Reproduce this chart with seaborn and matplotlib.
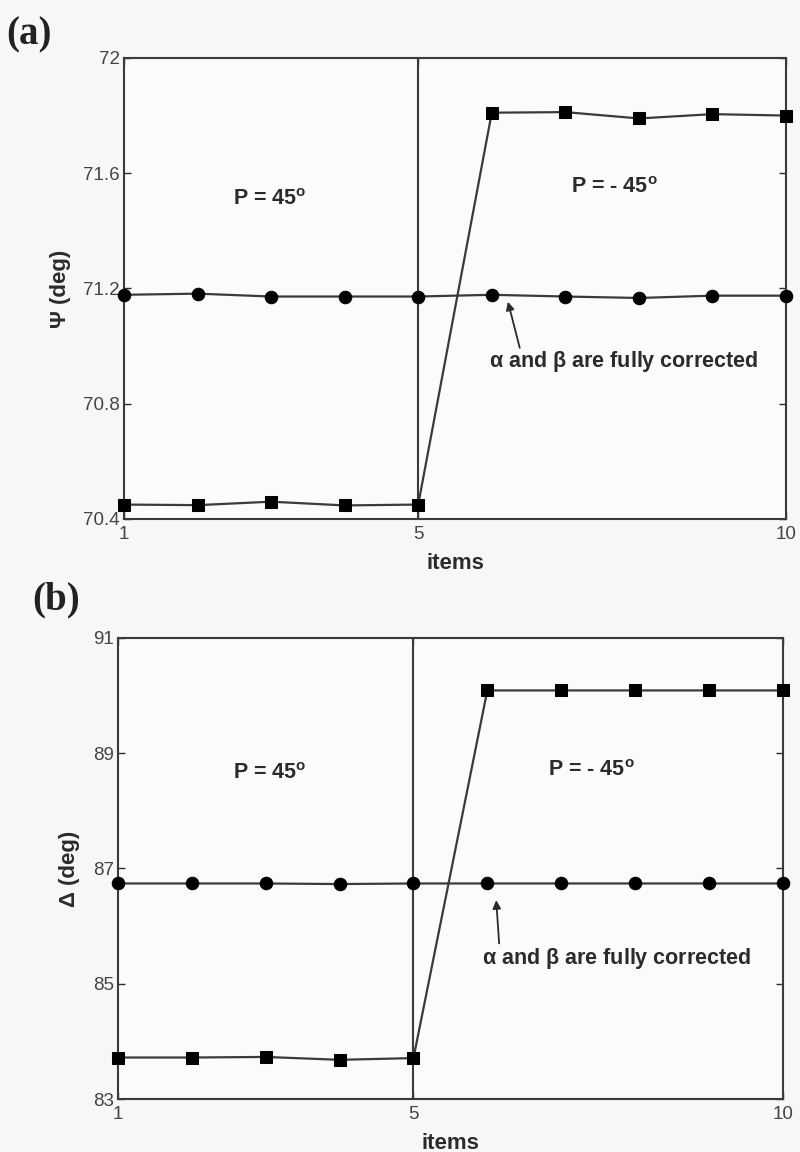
import numpy as np
import pandas as pd
import matplotlib
matplotlib.use("Agg")
import matplotlib.pyplot as plt
import seaborn as sns

# ---- data -----------------------------------------------------------------
items = [1, 2, 3, 4, 5, 6, 7, 8, 9, 10]

psi_uncorrected = [70.45, 70.448, 70.46, 70.447, 70.45, 71.81, 71.812, 71.79, 71.805, 71.80]
psi_corrected = [71.178, 71.182, 71.172, 71.172, 71.172, 71.178, 71.172, 71.167, 71.175, 71.175]

delta_uncorrected = [83.72, 83.72, 83.73, 83.68, 83.71, 90.09, 90.09, 90.09, 90.09, 90.09]
delta_corrected = [86.74, 86.74, 86.74, 86.73, 86.74, 86.74, 86.74, 86.74, 86.74, 86.74]

psi_ticks = [70.4, 70.8, 71.2, 71.6, 72.0]
psi_ticklabels = ["70.4", "70.8", "71.2", "71.6", "72"]
delta_ticks = [83, 85, 87, 89, 91]
x_ticks = [1, 5, 10]
switch_item = 5

note = r"$\mathbf{\alpha}$ and $\mathbf{\beta}$ are fully corrected"

# ---- style ----------------------------------------------------------------
sns.set_theme(style="white")
plt.rcParams["font.family"] = ["Liberation Sans", "DejaVu Sans"]
plt.rcParams["mathtext.fontset"] = "custom"
plt.rcParams["mathtext.rm"] = "Liberation Sans"
plt.rcParams["mathtext.bf"] = "Liberation Sans:bold"
plt.rcParams["mathtext.it"] = "Liberation Sans:italic"

INK = "#2b2b2b"
LINE = "#3a3a3a"
TICK = "#444444"

fig = plt.figure(figsize=(8, 11.52), dpi=100, facecolor="#f6f7f6")
ax_a = fig.add_axes([0.155, 0.5495, 0.8275, 0.4002])
ax_b = fig.add_axes([0.1475, 0.046, 0.831, 0.4002])


def draw_panel(ax, low, flat, yticks, yticklabels, ylim, ylabel, p45, pm45, txt, tip, tail):
    ax.set_facecolor("#fbfbfb")
    df = pd.DataFrame({"item": items, "uncorr": low, "corr": flat})
    ax.axvline(switch_item, color=LINE, lw=1.5, zorder=1)
    sns.lineplot(data=df, x="item", y="uncorr", ax=ax, color=LINE, lw=1.6,
                 marker="s", markersize=8, markerfacecolor="black",
                 markeredgecolor="black", zorder=3, clip_on=False)
    sns.lineplot(data=df, x="item", y="corr", ax=ax, color=LINE, lw=1.6,
                 marker="o", markersize=9, markerfacecolor="black",
                 markeredgecolor="black", zorder=3, clip_on=False)
    ax.set_xlim(1, 10)
    ax.set_ylim(*ylim)
    ax.set_xticks(x_ticks)
    ax.set_xticklabels([str(t) for t in x_ticks])
    ax.set_yticks(yticks)
    ax.set_yticklabels(yticklabels)
    ax.tick_params(direction="in", length=5, width=1.0, colors=INK,
                   labelcolor=TICK, labelsize=13.5, top=True, right=True,
                   left=True, bottom=True, pad=2)
    ax.tick_params(axis="x", pad=5)
    ax.tick_params(axis="y", pad=3)
    for s in ax.spines.values():
        s.set_color(LINE)
        s.set_linewidth(1.5)
    ax.set_xlabel("items", fontsize=16, fontweight="bold", color=INK, labelpad=7)
    ax.set_ylabel(ylabel, fontsize=16, fontweight="bold", color=INK, labelpad=9)
    ax.text(p45[0], p45[1], r"P = 45$^{\mathbf{o}}$", fontsize=15.5,
            fontweight="bold", color=INK, ha="center", va="center")
    ax.text(pm45[0], pm45[1], r"P = - 45$^{\mathbf{o}}$", fontsize=15.5,
            fontweight="bold", color=INK, ha="center", va="center")
    ax.annotate("", xy=tip, xytext=tail,
                arrowprops=dict(arrowstyle="-|>", color=INK, lw=1.3,
                                mutation_scale=12, shrinkA=0, shrinkB=0))
    ax.text(txt[0], txt[1], note, fontsize=15.5, fontweight="bold", color=INK,
            ha="center", va="center")


draw_panel(ax_a, psi_uncorrected, psi_corrected, psi_ticks, psi_ticklabels,
           (70.4, 72.0), "\u03a8 (deg)", (2.98, 71.51), (7.67, 71.55),
           (7.8, 70.945), (6.22, 71.154), (6.38, 70.994))
draw_panel(ax_b, delta_uncorrected, delta_corrected, delta_ticks,
           [str(t) for t in delta_ticks], (83, 91), "\u0394 (deg)",
           (3.06, 88.65), (7.41, 88.70), (7.75, 85.44), (6.12, 86.45),
           (6.16, 85.70))

fig.text(0.008, 1 - 35 / 1152, "(a)", family="Liberation Serif",
         fontweight="bold", fontsize=28, color="#222222", va="center", ha="left")
fig.text(0.04, 1 - 600 / 1152, "(b)", family="Liberation Serif",
         fontweight="bold", fontsize=28, color="#222222", va="center", ha="left")

fig.savefig("out.png", dpi=100, facecolor=fig.get_facecolor())
